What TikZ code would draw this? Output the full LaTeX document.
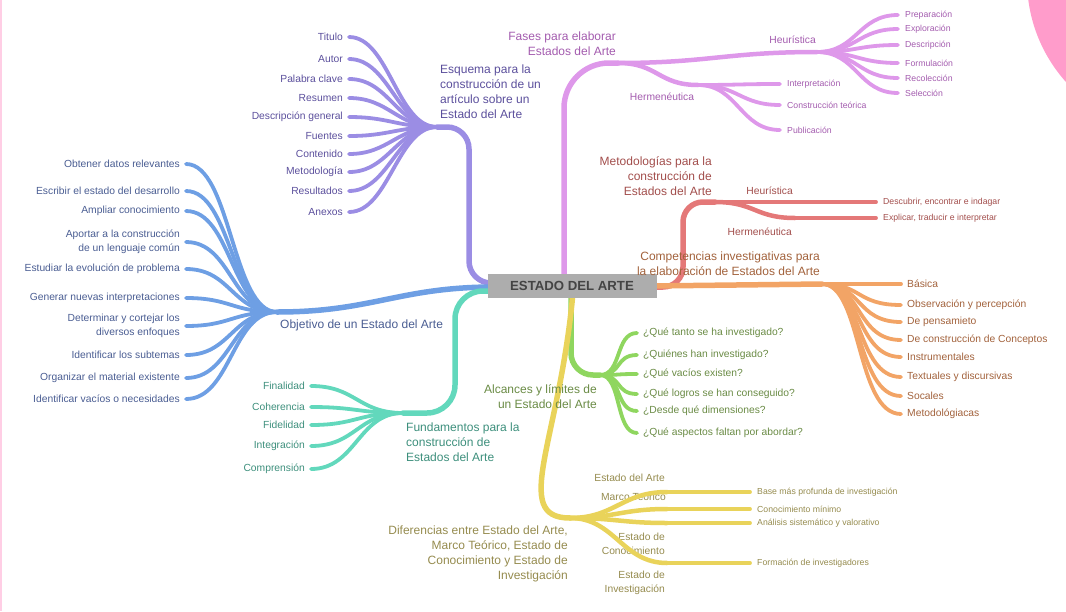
\documentclass[tikz,border=0pt]{standalone}
\usepackage{fontspec}
\setmainfont{Liberation Sans}
\usetikzlibrary{calc,backgrounds}

\definecolor{esqC}{HTML}{9B8DE4}
\definecolor{esqT}{HTML}{5B4F9C}
\definecolor{objC}{HTML}{6E9FE4}
\definecolor{objT}{HTML}{4A5D92}
\definecolor{funC}{HTML}{62D8BC}
\definecolor{funT}{HTML}{3D8F7C}
\definecolor{fasC}{HTML}{DE98EA}
\definecolor{fasT}{HTML}{A35BAE}
\definecolor{metC}{HTML}{E47878}
\definecolor{metT}{HTML}{A24E4C}
\definecolor{comC}{HTML}{F2A466}
\definecolor{comT}{HTML}{A2623C}
\definecolor{alcC}{HTML}{8FD65F}
\definecolor{alcT}{HTML}{6A8B45}
\definecolor{difC}{HTML}{E9D35A}
\definecolor{difT}{HTML}{958B4E}
\definecolor{cenF}{HTML}{ADADAD}
\definecolor{cenT}{HTML}{444444}
\definecolor{rosa}{HTML}{FF9CCB}

\begin{document}
\begin{tikzpicture}[x=1pt,y=-1pt,
  br/.style={line width=5.5pt,line cap=round},
  sb/.style={line width=4.5pt,line cap=round},
  lf/.style={line width=3.8pt,line cap=round},
  big/.style={font=\fontsize{12}{15}\selectfont,inner sep=0pt},
  txt/.style={font=\fontsize{10.3}{14}\selectfont,inner sep=0pt},
  sml/.style={font=\fontsize{8.7}{10}\selectfont,inner sep=0pt},
  txtL/.style={txt,anchor=east,inner xsep=6pt,align=right},
  txtR/.style={txt,anchor=west,inner xsep=6pt,align=left},
  smlR/.style={sml,anchor=west,inner xsep=7pt}]
\useasboundingbox (0,0) rectangle (1066,611);
\fill[rosa] (1180,-20) circle (153pt);
\fill[rosa!50] (0,0) rectangle (1.5,611);

\node[fill=cenF,text=cenT,minimum width=169pt,minimum height=24pt,inner sep=0pt,
  font=\bfseries\fontsize{13.2}{15}\selectfont] (centro) at (572,286) {ESTADO DEL ARTE};

\coordinate (oEsq) at ($(centro.west)+(7,-3)$);
\coordinate (oObj) at ($(centro.west)+(7,1)$);
\coordinate (oFun) at ($(centro.west)+(7,5)$);
\coordinate (oFas) at ($(centro.north)+(-8,6)$);
\coordinate (oMet) at ($(centro.east)+(-7,1)$);
\coordinate (oCom) at ($(centro.east)+(-7,0)$);
\coordinate (oAlc) at ($(centro.south)+(-1,-6)$);
\coordinate (oDif) at ($(centro.south)+(1,-6)$);

\coordinate (esq) at (437,127);
\coordinate (esqV) at (469,127);
\coordinate (obj) at (277,312);
\coordinate (fun) at (403,413);
\coordinate (funV) at (455,413);
\coordinate (fas) at (618,63);
\coordinate (met) at (715,202);
\coordinate (metV) at (683,202);
\coordinate (com) at (822,284);
\coordinate (alc) at (600,375);
\coordinate (dif) at (570,518);

\begin{scope}[on background layer]
\draw[br,esqC,rounded corners=22pt] (oEsq) -| (esqV) -- (esq);
\draw[br,objC] (oObj) .. controls +(-95,0) and +(95,0) .. (obj);
\draw[br,funC,rounded corners=28pt] (oFun) -| (funV) -- (fun);
\draw[br,fasC,rounded corners=45pt] (oFas) |- (fas);
\draw[br,metC,rounded corners=20pt] (oMet) -| (metV) -- (met);
\draw[br,comC] (oCom) -- (com);
\draw[br,alcC,rounded corners=22pt] (oAlc) |- (alc);
\draw[br,difC] (oDif) .. controls +(-13,148) and +(-60,0) .. (dif);
\end{scope}

% Esquema
\node[big,text=esqT,anchor=west,align=left] (esqL) at (440,92) {Esquema para la\\construcción de un\\artículo sobre un\\Estado del Arte};
\foreach \lab/\yy [count=\i] in {Titulo/37,Autor/59,Palabra clave/79,Resumen/98,Descripción general/117,Fuentes/136,Contenido/154,Metodología/172,Resultados/191,Anexos/212}{
  \node[txtL,text=esqT] (esq\i) at (349,\yy) {\lab};
  \draw[lf,esqC] (esq) .. controls +(-40,0) and +(40,0) .. (esq\i.east);
}

% Objetivo
\node[big,text=objT,anchor=west] (objL) at (280,325) {Objetivo de un Estado del Arte};
\foreach \lab/\yy [count=\i] in {Obtener datos relevantes/164,Escribir el estado del desarrollo/191,Ampliar conocimiento/211,{Aportar a la construcción\\de un lenguaje común}/242,Estudiar la evolución de problema/269,Generar nuevas interpretaciones/298,{Determinar y cortejar los\\diversos enfoques}/326,Identificar los subtemas/355,Organizar el material existente/378,Identificar vacíos o necesidades/399}{
  \node[txtL,text=objT] (obj\i) at (186,\yy) {\lab};
  \draw[lf,objC] (obj) .. controls +(-45,0) and +(45,0) .. (obj\i.east);
}

% Fundamentos
\node[big,text=funT,anchor=west,align=left] (funL) at (406,442) {Fundamentos para la\\construcción de\\Estados del Arte};
\foreach \lab/\yy [count=\i] in {Finalidad/386,Coherencia/407,Fidelidad/425,Integración/446,Comprensión/469}{
  \node[txtL,text=funT] (fun\i) at (311,\yy) {\lab};
  \draw[lf,funC] (fun) .. controls +(-45,0) and +(45,0) .. (fun\i.east);
}

% Fases
\node[big,text=fasT,anchor=east,align=right] (fasL) at (616,44) {Fases para elaborar\\Estados del Arte};
\coordinate (heu) at (817,52);
\coordinate (her) at (698,85);
\draw[sb,fasC] (fas) .. controls +(90,0) and +(-90,0) .. (heu);
\draw[sb,fasC] (fas) .. controls +(40,0) and +(-40,0) .. (her);
\node[txt,text=fasT,anchor=east] (heuL) at (816,40) {Heurística};
\node[txt,text=fasT] (herL) at (662,97) {Hermenéutica};
\foreach \lab/\yy [count=\i] in {Preparación/15,Exploración/29,Descripción/45,Formulación/63,Recolección/78,Selección/93}{
  \node[smlR,text=fasT] (heu\i) at (898,\yy) {\lab};
  \draw[lf,fasC] (heu) .. controls +(40,0) and +(-40,0) .. (heu\i.west);
}
\foreach \lab/\yy [count=\i] in {Interpretación/84,Construcción teórica/105,Publicación/130}{
  \node[smlR,text=fasT] (her\i) at (780,\yy) {\lab};
  \draw[lf,fasC] (her) .. controls +(40,0) and +(-40,0) .. (her\i.west);
}

% Metodologias
\node[big,text=metT,anchor=east,align=right] (metL) at (712,176) {Metodologías para la\\construcción de\\Estados del Arte};
\coordinate (heuR) at (795,202);
\coordinate (herR) at (795,218);
\draw[sb,metC] (met) -- (heuR);
\draw[sb,metC] (met) .. controls +(40,0) and +(-40,0) .. (herR);
\node[txt,text=metT,anchor=east] (heuRL) at (793,191) {Heurística};
\node[txt,text=metT,anchor=east] (herRL) at (792,232) {Hermenéutica};
\node[smlR,text=metT] (heuR1) at (876,202) {Descubrir, encontrar e indagar};
\node[smlR,text=metT] (herR1) at (876,218) {Explicar, traducir e interpretar};
\draw[lf,metC] (heuR) -- (heuR1.west);
\draw[lf,metC] (herR) -- (herR1.west);

% Competencias
\node[big,text=comT,anchor=east,align=right] (comL) at (820,264) {Competencias investigativas para\\la elaboración de Estados del Arte};
\foreach \lab/\yy [count=\i] in {Básica/284,Observación y percepción/305,De pensamieto/322,De construcción de Conceptos/340,Instrumentales/357,Textuales y discursivas/377,Socales/396,Metodológiacas/414}{
  \node[txtR,text=comT] (com\i) at (901,\yy) {\lab};
  \draw[lf,comC] (com) .. controls +(40,0) and +(-45,0) .. (com\i.west);
}

% Alcances
\node[big,text=alcT,anchor=east,align=right] (alcL) at (597,397) {Alcances y límites de\\un Estado del Arte};
\foreach \lab/\yy [count=\i] in {¿Qué tanto se ha investigado?/333,¿Quiénes han investigado?/355,¿Qué vacíos existen?/374,¿Qué logros se han conseguido?/394,¿Desde qué dimensiones?/411,¿Qué aspectos faltan por abordar?/433}{
  \node[txtR,text=alcT] (alc\i) at (637,\yy) {\lab};
  \draw[lf,alcC] (alc) .. controls +(22,0) and +(-22,0) .. (alc\i.west);
}

% Diferencias
\node[big,text=difT,anchor=east,align=right] (difL) at (568,554) {Diferencias entre Estado del Arte,\\Marco Teórico, Estado de\\Conocimiento y Estado de\\Investigación};
\node[txt,text=difT,anchor=east] (difS1) at (665,478) {Estado del Arte};
\node[txt,text=difT,anchor=east] (difS2) at (666,497) {Marco Teórico};
\node[txt,text=difT,anchor=east,align=right] (difS3) at (665,544) {Estado de\\Conocimiento};
\node[txt,text=difT,anchor=east,align=right] (difS4) at (665,583) {Estado de\\Investigación};
\foreach \lab/\yy [count=\i] in {Base más profunda de investigación/492,Conocimiento mínimo/509,Análisis sistemático y valorativo/523,Formación de investigadores/563}{
  \coordinate (dif\i) at (667,\yy);
  \node[smlR,text=difT] (difH\i) at (750,\yy) {\lab};
  \draw[sb,difC] (dif) .. controls +(45,0) and +(-45,0) .. (dif\i);
  \draw[lf,difC] (dif\i) -- (difH\i.west);
}
\end{tikzpicture}
\end{document}
